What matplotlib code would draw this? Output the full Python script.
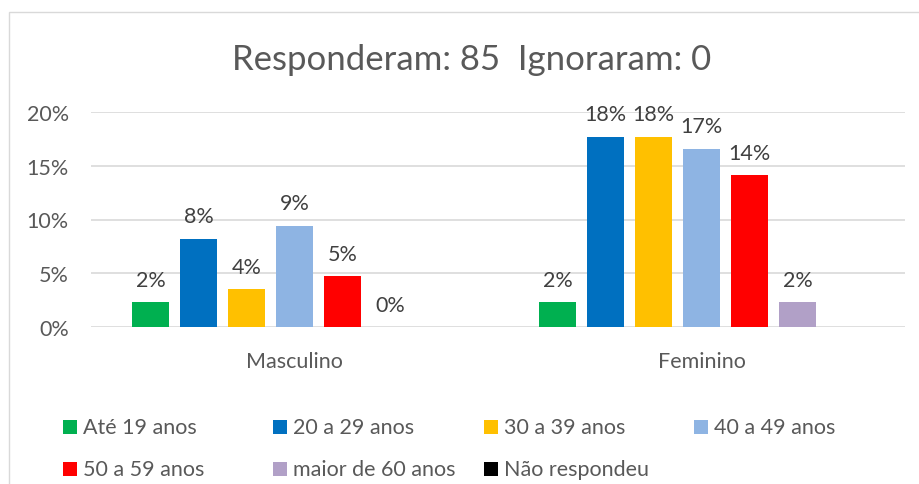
import numpy as np
import matplotlib
matplotlib.use("Agg")
import matplotlib.pyplot as plt
from matplotlib.patches import Rectangle

# Data (percent of respondents)
categories = ["Masculino", "Feminino"]
series = ["Até 19 anos", "20 a 29 anos", "30 a 39 anos", "40 a 49 anos",
          "50 a 59 anos", "maior de 60 anos", "Não respondeu"]
masculino = [2.3, 8.2, 3.5, 9.4, 4.7, 0.0, np.nan]
feminino = [2.3, 17.7, 17.7, 16.6, 14.1, 2.3, np.nan]
colors = ["#00B050", "#0070C0", "#FFC000", "#8EB4E3", "#FF0000", "#B1A0C7", "#000000"]
title = "Responderam: 85  Ignoraram: 0"
yticks = [0, 5, 10, 15, 20]

W, H = 920, 485
TXT = "#595959"
GRID = "#D9D9D9"
plt.rcParams["font.family"] = ["Lato", "DejaVu Sans"]

fig = plt.figure(figsize=(W / 100, H / 100), dpi=100)

# chart border (cropped at right / bottom)
fig.patches.append(Rectangle((9 / W, -0.1), 1.2, 1 - 13 / H + 0.1, transform=fig.transFigure,
                             fill=False, edgecolor=GRID, linewidth=1))

ax = fig.add_axes([91 / W, 1 - 328 / H, (905 - 91) / W, (328 - 113) / H])

values = np.array([masculino, feminino])  # shape (cat, series)
slot = 48 / 407
bw = 37 / 407
x = np.arange(len(categories))
for i, name in enumerate(series):
    offs = (i - (len(series) - 1) / 2) * slot
    vals = values[:, i]
    for xi, v in zip(x, vals):
        if np.isnan(v):
            continue
        ax.bar(xi + offs, v, width=bw, color=colors[i], zorder=3)
        ax.annotate(f"{v:.0f}%", (xi + offs, v), xytext=(0, 9), textcoords="offset points",
                    ha="center", va="bottom", fontsize=15.5, color="#404040")

ax.set_xlim(-0.5, 1.5)
ax.set_ylim(0, 20)
ax.set_yticks(yticks)
ax.set_yticklabels([f"{t}%" for t in yticks])
ax.set_xticks(x)
ax.set_xticklabels(categories)
ax.tick_params(axis="both", length=0, labelsize=15.5, labelcolor=TXT)
ax.tick_params(axis="y", pad=16)
ax.tick_params(axis="x", pad=17)
ax.grid(axis="y", color=GRID, linewidth=1.2, zorder=0)
for s in ax.spines.values():
    s.set_visible(False)

fig.text(472 / W, 1 - 60 / H, title, ha="center", va="center", fontsize=25, color=TXT)

# legend, Excel-like fixed column widths
col_x = [63, 273, 484, 694]
row_y = [428, 470]
for i, name in enumerate(series):
    r, c = divmod(i, 4)
    mx, my = col_x[c], row_y[r]
    fig.patches.append(Rectangle((mx / W, 1 - (my + 7) / H), 14 / W, 14 / H,
                                 transform=fig.transFigure, facecolor=colors[i], edgecolor="none"))
    fig.text((mx + 20) / W, 1 - my / H, name, ha="left", va="center", fontsize=15.5, color=TXT)

fig.savefig("out.png", dpi=100)
